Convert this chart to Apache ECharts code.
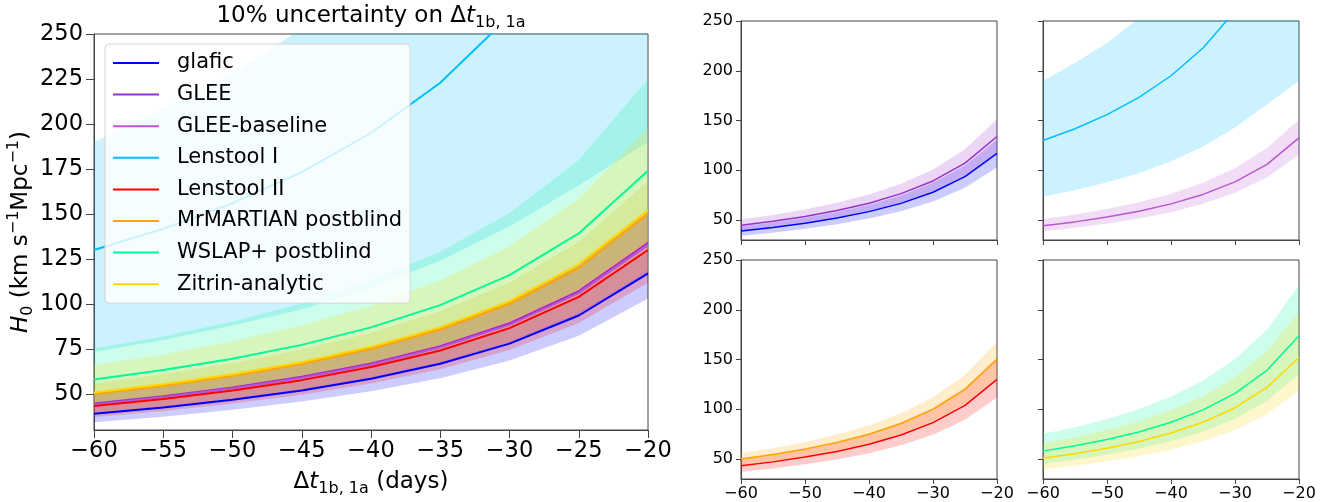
<!DOCTYPE html>
<html>
<head>
<meta charset="utf-8">
<script src="https://cdn.jsdelivr.net/npm/echarts@6/dist/echarts.min.js"></script>
<style>
html,body{margin:0;padding:0;background:#fff}
#chart{width:1338px;height:502px}
</style>
</head>
<body>
<div id="chart"></div>
<script>
// Time delay between images 1b and 1a (days)
const days = ['−60', '−55', '−50', '−45', '−40', '−35', '−30', '−25', '−20'];

// H0 predictions (km/s/Mpc) per lens model, with lower / upper band edges
const glafic      = [39.0, 42.5, 46.8, 52.0, 58.5, 66.8, 78.0, 93.6, 117.0];
const glaficLo    = [34.3, 37.4, 41.2, 45.8, 51.5, 58.8, 68.6, 82.4, 103.0];
const glaficHi    = [43.7, 47.6, 52.4, 58.2, 65.5, 74.8, 87.4, 104.8, 131.0];

const glee        = [44.7, 48.8, 53.6, 59.6, 67.0, 76.6, 89.3, 107.2, 134.0];
const gleeLo      = [39.3, 42.9, 47.2, 52.4, 59.0, 67.4, 78.6, 94.3, 117.9];
const gleeHi      = [50.5, 55.1, 60.6, 67.3, 75.7, 86.5, 100.9, 121.1, 151.4];

const gleeBase    = [44.2, 48.2, 53.0, 58.9, 66.3, 75.8, 88.4, 106.0, 132.6];
const gleeBaseLo  = [38.7, 42.2, 46.4, 51.6, 58.0, 66.3, 77.4, 92.9, 116.0];
const gleeBaseHi  = [51.0, 55.6, 61.2, 68.0, 76.5, 87.4, 102.0, 122.4, 151.0];

const lenstool1   = [130.0, 141.8, 156.0, 173.3, 195.0, 222.9, 260.0, 312.0, 390.0];
const lenstool1Lo = [73.4, 80.0, 88.0, 97.0, 109.0, 124.0, 143.0, 166.0, 190.0];
const lenstool1Hi = [190.0, 208.0, 228.0, 253.0, 285.0, 326.0, 380.0, 456.0, 570.0];

const lenstool2   = [43.3, 47.2, 52.0, 57.7, 65.0, 74.2, 86.6, 104.0, 130.0];
const lenstool2Lo = [37.2, 40.6, 44.7, 49.6, 55.9, 63.8, 74.5, 89.4, 111.8];
const lenstool2Hi = [50.7, 55.2, 60.8, 67.5, 76.0, 86.8, 101.3, 121.7, 152.0];

const mrmartian   = [50.0, 54.5, 60.0, 66.7, 75.0, 85.7, 100.0, 120.0, 150.0];
const mrmartianLo = [44.0, 48.0, 52.8, 58.7, 66.0, 75.4, 88.0, 105.6, 132.0];
const mrmartianHi = [56.0, 61.0, 67.2, 74.7, 84.0, 96.0, 112.0, 134.4, 168.0];

const wslap       = [58.0, 63.3, 69.6, 77.3, 87.0, 99.4, 116.0, 139.2, 174.0];
const wslapLo     = [45.2, 49.4, 54.3, 60.3, 67.9, 77.5, 90.5, 108.6, 135.7];
const wslapHi     = [75.4, 82.0, 90.3, 100.3, 113.0, 129.0, 150.5, 180.0, 225.0];

const zitrin      = [50.8, 55.4, 61.0, 67.7, 76.2, 87.0, 101.6, 122.0, 152.0];
const zitrinLo    = [39.6, 43.2, 47.6, 52.8, 59.4, 67.9, 79.2, 95.2, 118.6];
const zitrinHi    = [66.0, 72.0, 79.3, 88.0, 99.0, 113.1, 132.0, 158.6, 197.6];

const mainTicks  = [50, 75, 100, 125, 150, 175, 200, 225, 250];
const smallTicks = [50, 100, 150, 200, 250];

const models = [
  { name: 'glafic',               color: '#0000ff', mid: glafic,    lo: glaficLo,    hi: glaficHi },
  { name: 'GLEE',                 color: '#9932cc', mid: glee,      lo: gleeLo,      hi: gleeHi },
  { name: 'GLEE-baseline',        color: '#ba55d3', mid: gleeBase,  lo: gleeBaseLo,  hi: gleeBaseHi },
  { name: 'Lenstool I',           color: '#00bfff', mid: lenstool1, lo: lenstool1Lo, hi: lenstool1Hi },
  { name: 'Lenstool II',          color: '#ff0000', mid: lenstool2, lo: lenstool2Lo, hi: lenstool2Hi },
  { name: 'MrMARTIAN postblind',  color: '#ffa500', mid: mrmartian, lo: mrmartianLo, hi: mrmartianHi },
  { name: 'WSLAP+ postblind',     color: '#00fa9a', mid: wslap,     lo: wslapLo,     hi: wslapHi },
  { name: 'Zitrin-analytic',      color: '#ffd700', mid: zitrin,    lo: zitrinLo,    hi: zitrinHi }
];

// which models go in each of the four small panels (grid 1..4)
const panels = [
  ['glafic', 'GLEE'],
  ['Lenstool I', 'GLEE-baseline'],
  ['Lenstool II', 'MrMARTIAN postblind'],
  ['WSLAP+ postblind', 'Zitrin-analytic']
];

const FONT = 'DejaVu Sans';
const SPINE = '#444';

function hexA(hex, a) {
  const n = parseInt(hex.slice(1), 16);
  return 'rgba(' + ((n >> 16) & 255) + ',' + ((n >> 8) & 255) + ',' + (n & 255) + ',' + a + ')';
}

const richText = {
  n:   { fontFamily: FONT, fontSize: 23, fontWeight: 'normal', lineHeight: 30, color: '#000' },
  it:  { fontFamily: FONT, fontSize: 23, fontWeight: 'normal', lineHeight: 30, color: '#000', fontStyle: 'italic' },
  sub: { fontFamily: FONT, fontSize: 16, fontWeight: 'normal', lineHeight: 18, color: '#000', verticalAlign: 'bottom' },
  sup: { fontFamily: FONT, fontSize: 16, fontWeight: 'normal', lineHeight: 18, color: '#000', verticalAlign: 'top' }
};

const grids = [
  { left: 94,   top: 34,  width: 554, height: 402 },
  { left: 741,  top: 21,  width: 256, height: 219 },
  { left: 1043, top: 21,  width: 256, height: 219 },
  { left: 741,  top: 260, width: 256, height: 219 },
  { left: 1043, top: 260, width: 256, height: 219 }
].map(g => Object.assign(g, { show: true, borderColor: SPINE, borderWidth: 1, backgroundColor: 'transparent', containLabel: false }));

const xAxes = [], yAxes = [];
grids.forEach((g, i) => {
  const main = i === 0;
  const showXLabel = main || i >= 3;
  const showYLabel = main || i === 1 || i === 3;
  xAxes.push({
    type: 'category', gridIndex: i, data: days, boundaryGap: false,
    axisLine: { show: true, onZero: false, lineStyle: { color: SPINE, width: 1 } },
    axisTick: { show: true, interval: main ? 0 : 1, length: main ? 8 : 5, lineStyle: { color: SPINE } },
    axisLabel: { show: showXLabel, interval: main ? 0 : 1, color: '#000', fontFamily: FONT,
                 fontSize: main ? 22.5 : 16, margin: main ? 10 : 7 },
    splitLine: { show: false },
    name: main ? '{n|Δ}{it|t}{sub|1b, 1a}{n| (days)}' : '',
    nameLocation: 'middle', nameGap: 37,
    nameTextStyle: { rich: richText }
  });
  const ticks = main ? mainTicks : smallTicks;
  yAxes.push({
    type: 'value', gridIndex: i, min: 30, max: 250,
    axisLine: { show: true, lineStyle: { color: SPINE, width: 1 } },
    axisTick: { show: true, customValues: ticks, length: main ? 8 : 5, lineStyle: { color: SPINE } },
    axisLabel: { show: showYLabel, customValues: ticks, color: '#000', fontFamily: FONT,
                 fontSize: main ? 22.5 : 16, margin: main ? 11 : 8 },
    splitLine: { show: false },
    name: main ? '{it|H}{sub|0}{n| (km s}{sup|−1}{n|Mpc}{sup|−1}{n|)}' : '',
    nameLocation: 'middle', nameGap: 56,
    nameTextStyle: { rich: richText }
  });
});

const series = [];
function addBand(m, gi) {
  const stackId = 'band-' + gi + '-' + m.name;
  series.push({
    type: 'line', name: m.name + ' lower', xAxisIndex: gi, yAxisIndex: gi,
    data: m.lo, stack: stackId, symbol: 'none', silent: true, z: 1,
    lineStyle: { opacity: 0 }, clip: true
  });
  series.push({
    type: 'line', name: m.name + ' upper', xAxisIndex: gi, yAxisIndex: gi,
    data: m.hi.map((v, k) => v - m.lo[k]), stack: stackId, symbol: 'none', silent: true, z: 1,
    lineStyle: { opacity: 0 }, areaStyle: { color: hexA(m.color, 0.2), opacity: 1 }, clip: true
  });
}
function addLine(m, gi, lineWidth) {
  series.push({
    type: 'line', name: m.name, xAxisIndex: gi, yAxisIndex: gi,
    data: m.mid, symbol: 'none', silent: true, z: 3, color: m.color,
    lineStyle: { color: m.color, width: lineWidth }, clip: true
  });
}

// main panel: all bands first, then all central lines on top
models.forEach(m => addBand(m, 0));
models.forEach(m => addLine(m, 0, 2));

// small panels
panels.forEach((names, p) => {
  const gi = p + 1;
  const ms = names.map(n => models.find(m => m.name === n));
  ms.forEach(m => addBand(m, gi));
  ms.forEach(m => addLine(m, gi, 1.5));
});

const chart = echarts.init(document.getElementById('chart'), null, { renderer: 'canvas' });
chart.setOption({
  animation: false,
  backgroundColor: '#ffffff',
  title: {
    text: '{n|10% uncertainty on Δ}{it|t}{sub|1b, 1a}',
    left: 371, top: 1, textAlign: 'center', padding: 0,
    textStyle: { fontWeight: 'normal', rich: richText }
  },
  legend: {
    data: models.map(m => ({ name: m.name, icon: 'rect' })),
    orient: 'vertical', left: 105, top: 44, z: 10,
    padding: [7, 8, 7, 8], itemGap: 7.6, itemWidth: 46, itemHeight: 2,
    backgroundColor: 'rgba(255,255,255,0.8)', borderColor: '#d4d4d4', borderWidth: 1, borderRadius: 4,
    selectedMode: false,
    textStyle: { fontFamily: FONT, fontSize: 21, lineHeight: 24, color: '#000', padding: [0, 0, 0, 13] }
  },
  grid: grids,
  xAxis: xAxes,
  yAxis: yAxes,
  series: series
});
</script>
</body>
</html>
